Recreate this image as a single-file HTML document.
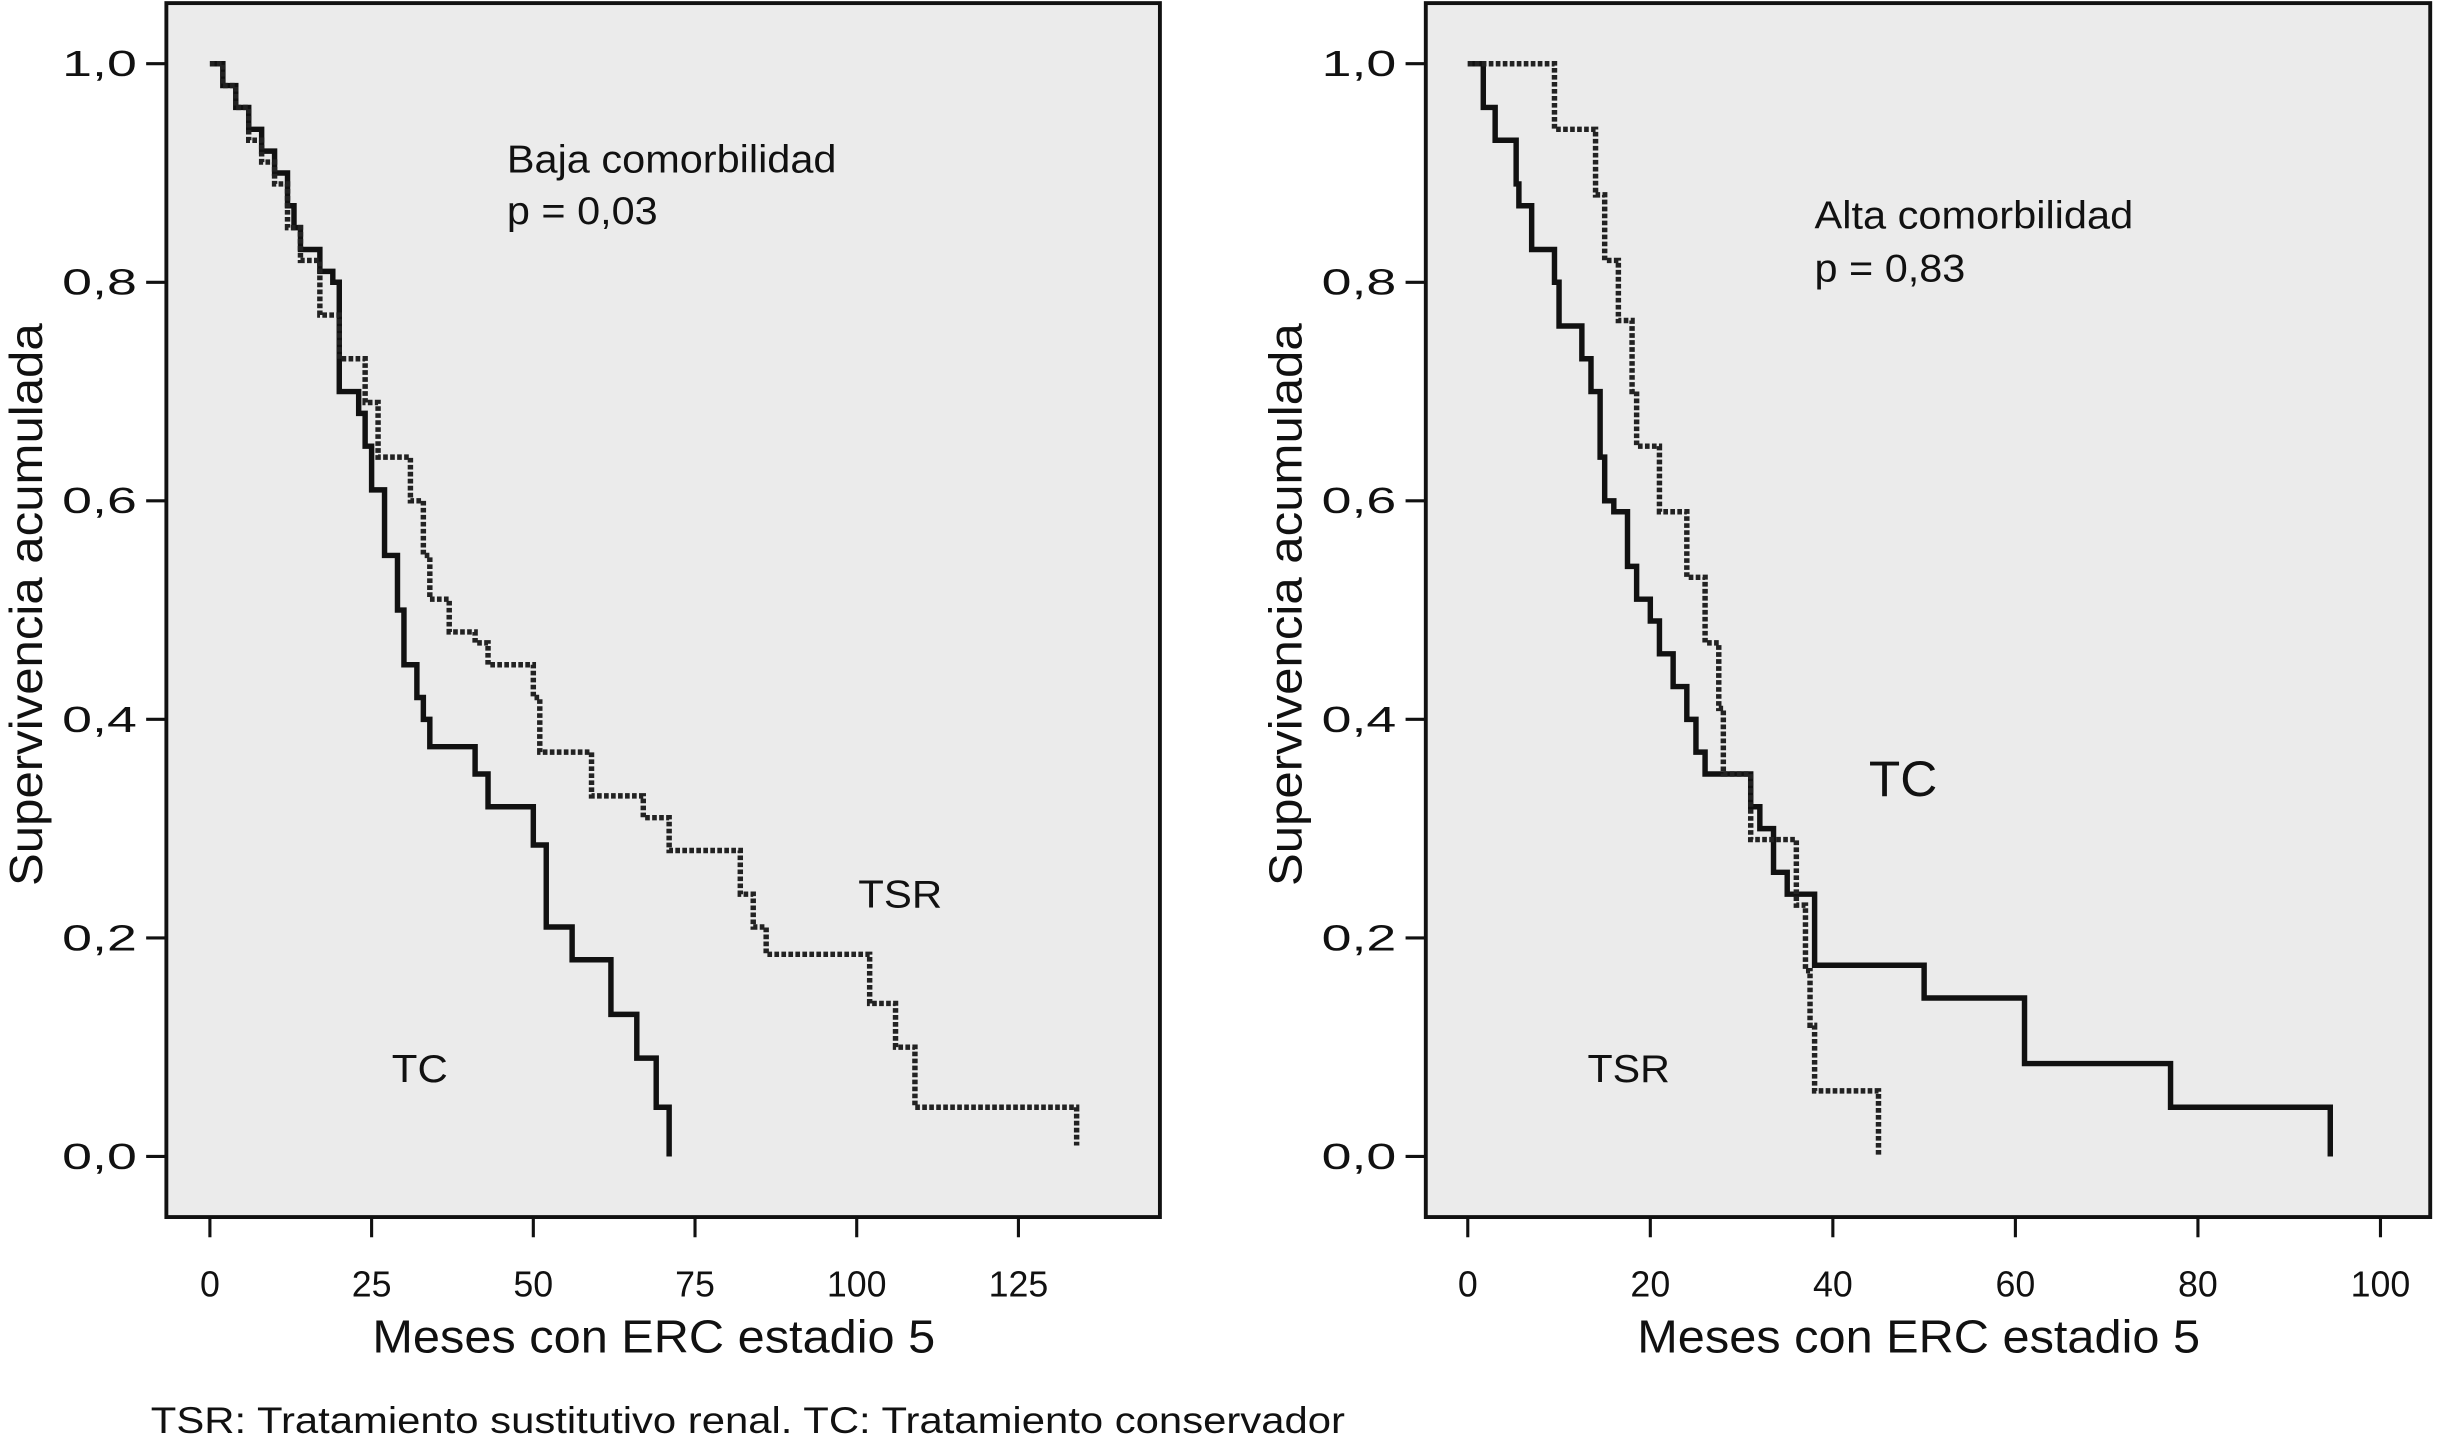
<!DOCTYPE html>
<html><head><meta charset="utf-8">
<style>
html,body{margin:0;padding:0;background:#fff;}
svg{display:block;}
text{font-family:"Liberation Sans",Arial,sans-serif;fill:#111;}
</style></head>
<body>
<svg id="chart" width="2438" height="1444" viewBox="0 0 1568 929" preserveAspectRatio="none" xmlns="http://www.w3.org/2000/svg">
  <g id="left"></g>
  <g id="right"></g>
  <text x="97" y="922" font-size="24" textLength="768" lengthAdjust="spacingAndGlyphs">TSR: Tratamiento sustitutivo renal. TC: Tratamiento conservador</text>
</svg>
<script>
const yTicks = [0, 0.2, 0.4, 0.6, 0.8, 1.0];
const yTickLabels = ["0,0","0,2","0,4","0,6","0,8","1,0"];
const leftXTicks = [0, 25, 50, 75, 100, 125];
const rightXTicks = [0, 20, 40, 60, 80, 100];

const leftTcT = [0,2,4,6,8,10,12,13,14,17,19,20,23,24,25,27,29,30,32,33,34,41,43,50,52,56,62,66,69,71];
const leftTcS = [1,0.98,0.96,0.94,0.92,0.9,0.87,0.85,0.83,0.81,0.8,0.7,0.68,0.65,0.61,0.55,0.5,0.45,0.42,0.4,0.375,0.35,0.32,0.285,0.21,0.18,0.13,0.09,0.045,0];
const leftTsrT = [0,2,4,6,8,10,12,14,17,20,24,26,31,33,34,37,41,43,50,51,59,67,71,82,84,86,102,106,109,134];
const leftTsrS = [1,0.98,0.96,0.93,0.91,0.89,0.85,0.82,0.77,0.73,0.69,0.64,0.6,0.55,0.51,0.48,0.47,0.45,0.42,0.37,0.33,0.31,0.28,0.24,0.21,0.185,0.14,0.1,0.045,0.01];
const leftTsrEnd = 134;
const leftTcEnd = 71;

const rightTcT = [0,1.7,3,5.3,5.6,7,9.5,10,12.5,13.5,14.5,15,16,17.5,18.5,20,21,22.5,24,25,26,31,32,33.5,35,38,50,61,77,94.5];
const rightTcS = [1,0.96,0.93,0.89,0.87,0.83,0.8,0.76,0.73,0.7,0.64,0.6,0.59,0.54,0.51,0.49,0.46,0.43,0.4,0.37,0.35,0.32,0.3,0.26,0.24,0.175,0.145,0.085,0.045,0];
const rightTsrT = [0,9.5,14,15,16.5,18,18.5,21,24,26,27.5,28,31,36,37,37.5,38,45];
const rightTsrS = [1,0.94,0.88,0.82,0.765,0.7,0.65,0.59,0.53,0.47,0.41,0.35,0.29,0.23,0.17,0.12,0.06,0];
const rightTcEnd = 94.5;
const rightTsrEnd = 45;

const NS = "http://www.w3.org/2000/svg";
function mk(parent, tag, attrs){ const e=document.createElementNS(NS,tag); for(const k in attrs) e.setAttribute(k,attrs[k]); parent.appendChild(e); return e; }

function panel(g, box, x0px, pxPerUnit, xTicks, tag){
  const xs = t => x0px + t*pxPerUnit;
  const ys = s => 744 - s*703;
  const r = mk(g,'rect',{x:box[0],y:box[1],width:box[2]-box[0],height:box[3]-box[1],fill:'#ebebeb',stroke:'#111','stroke-width':2.5});
  
  
  yTicks.forEach((v,i)=>{
    const l = mk(g,'line',{x1:box[0]-13,x2:box[0],y1:ys(v),y2:ys(v),stroke:'#111','stroke-width':2});
    
    
    const t = mk(g,'text',{x:box[0]-19,y:ys(v)+8,'font-size':23,'text-anchor':'end',textLength:48,lengthAdjust:'spacingAndGlyphs'});
    t.textContent = yTickLabels[i];
    
    
  });
  xTicks.forEach(v=>{
    const l = mk(g,'line',{x1:xs(v),x2:xs(v),y1:box[3],y2:box[3]+13,stroke:'#111','stroke-width':2});
    
    
    const t = mk(g,'text',{x:xs(v),y:box[3]+51,'font-size':23,'text-anchor':'middle'});
    t.textContent = String(v);
    
    
  });
  const xt = mk(g,'text',{x:(box[0]+box[2])/2-6,y:870,'font-size':30,'text-anchor':'middle',textLength:362,lengthAdjust:'spacingAndGlyphs'});
  xt.textContent = 'Meses con ERC estadio 5';
  
  
  const cx = box[0]-80, cy = 389;
  const yt = mk(g,'text',{x:cx,y:cy,'font-size':30,'text-anchor':'middle',textLength:362,lengthAdjust:'spacingAndGlyphs',transform:`rotate(-90 ${cx} ${cy})`});
  yt.textContent = 'Supervivencia acumulada';
  
  
  return {xs, ys};
}

function stepPath(T,S,end,xs,ys){
  let d = `M${xs(T[0])},${ys(S[0])}`;
  for(let i=1;i<T.length;i++){ d += ` H${xs(T[i])} V${ys(S[i])}`; }
  d += ` H${xs(end)}`;
  return d;
}

const L = document.getElementById('left');
const la = panel(L,[107,2,746,783],135,4.16,leftXTicks,'left');
const p1 = mk(L,'path',{d:stepPath(leftTcT,leftTcS,leftTcEnd,la.xs,la.ys),fill:'none',stroke:'#111','stroke-width':3.5});


const p2 = mk(L,'path',{d:stepPath(leftTsrT,leftTsrS,leftTsrEnd,la.xs,la.ys),fill:'none',stroke:'#222','stroke-width':3.5,'stroke-dasharray':'3 1.5'});



const R = document.getElementById('right');
const ra = panel(R,[917,2,1563,783],944,5.87,rightXTicks,'right');
const p3 = mk(R,'path',{d:stepPath(rightTcT,rightTcS,rightTcEnd,ra.xs,ra.ys),fill:'none',stroke:'#111','stroke-width':3.5});


const p4 = mk(R,'path',{d:stepPath(rightTsrT,rightTsrS,rightTsrEnd,ra.xs,ra.ys),fill:'none',stroke:'#222','stroke-width':3.5,'stroke-dasharray':'3 1.5'});



function label(g,x,y,size,txt,name,len){
  const t = mk(g,'text',{x:x,y:y,'font-size':size});
  if(len){ t.setAttribute('textLength',len); t.setAttribute('lengthAdjust','spacingAndGlyphs'); }
  t.textContent = txt;
  
  
}
label(L,326,111,25,'Baja comorbilidad','left-group-title',212);
label(L,326,144,25,'p = 0,03','left-p-value',97);
label(L,552,584,25,'TSR','left-tsr-label',54);
label(L,252,696,25,'TC','left-tc-label',36);
label(R,1167,147,25,'Alta comorbilidad','right-group-title',205);
label(R,1167,181,25,'p = 0,83','right-p-value',97);
label(R,1202,512,32,'TC','right-tc-label',44);
label(R,1021,696,25,'TSR','right-tsr-label',53);
</script>
</body></html>
